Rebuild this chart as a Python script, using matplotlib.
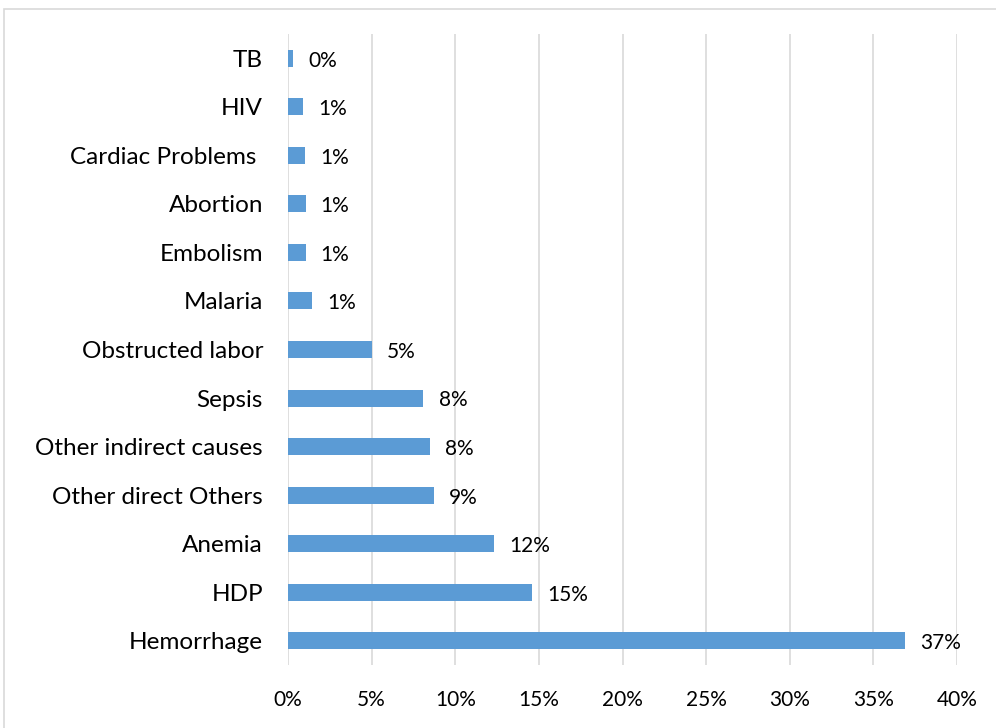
import matplotlib.pyplot as plt
from matplotlib.patches import Rectangle
from matplotlib.ticker import FuncFormatter

# -------------------------------
# Data (top to bottom)
# -------------------------------
causes = ['TB', 'HIV', 'Cardiac Problems ', 'Abortion', 'Embolism', 'Malaria',
          'Obstructed labor', 'Sepsis', 'Other indirect causes',
          'Other direct Others', 'Anemia', 'HDP', 'Hemorrhage']
shares = [0.3, 0.9, 1.0, 1.05, 1.05, 1.45, 5.0, 8.1, 8.5, 8.7, 12.3, 14.6, 36.9]
value_labels = ['0%', '1%', '1%', '1%', '1%', '1%', '5%', '8%', '8%', '9%',
                '12%', '15%', '37%']
xticks = [0, 5, 10, 15, 20, 25, 30, 35, 40]

plt.rcParams['font.family'] = ['Lato', 'DejaVu Sans']

fig = plt.figure(figsize=(9.96, 7.28), dpi=100)
ax = fig.add_axes([0.2892, 0.0865, 0.6716, 0.8668])

# outer chart border
fig.patches.append(Rectangle((0.004, -0.01), 1.2, 0.9975,
                             transform=fig.transFigure, fill=False,
                             edgecolor='#D9D9D9', linewidth=1.2))

ypos = list(range(len(causes)))[::-1]
ax.barh(ypos, shares, height=0.35, color='#5B9BD5', zorder=3)

for y, v, lab in zip(ypos, shares, value_labels):
    ax.text(v + 0.9, y - 0.05, lab, va='center', ha='left', fontsize=15,
            color='#000000')

ax.set_yticks(ypos)
ax.set_yticklabels(causes, fontsize=17.5)
ax.set_ylim(-0.5, len(causes) - 0.5)

ax.set_xlim(0, 40)
ax.set_xticks(xticks)
ax.xaxis.set_major_formatter(FuncFormatter(lambda x, _: f'{x:.0f}%'))
ax.tick_params(axis='x', labelsize=15, length=0, pad=18)
ax.tick_params(axis='y', length=0, pad=18)

ax.grid(axis='x', color='#D9D9D9', linewidth=1.2, zorder=0)
for s in ax.spines.values():
    s.set_visible(False)

plt.savefig('out.png', dpi=100)
